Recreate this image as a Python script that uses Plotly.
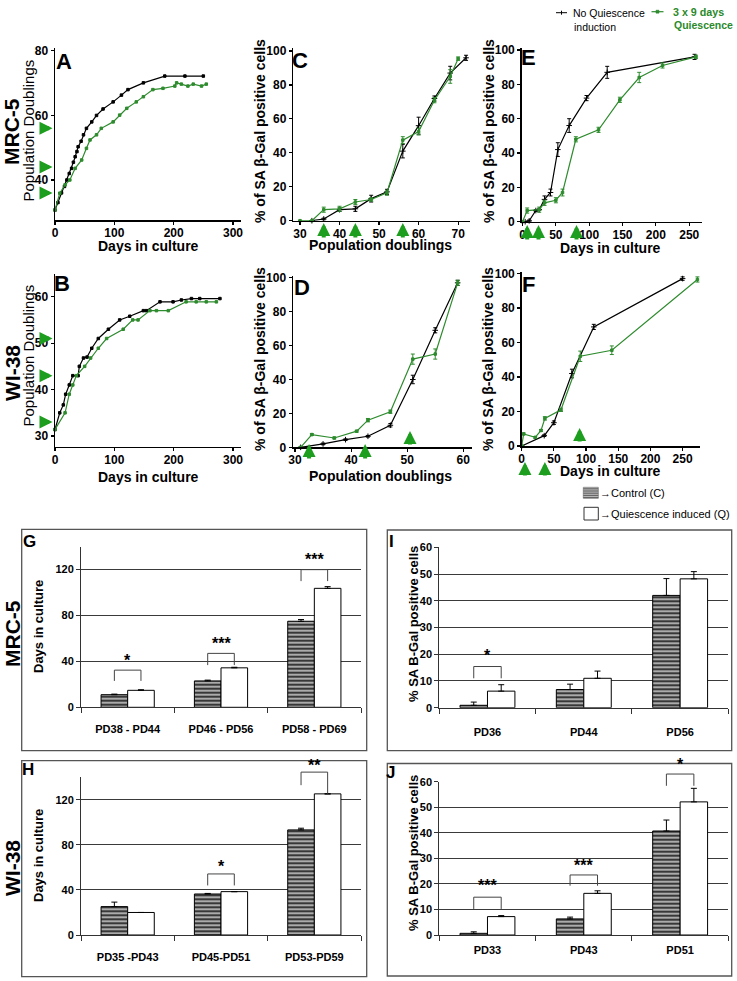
import plotly.graph_objects as go

W, H = 737, 981
FONT = "Liberation Sans, Arial, sans-serif"
GREEN = "#2e8b2e"
GREEN_ARROW = "#1e9e1e"
GREEN_TEXT = "#2a8a2a"

# ---------------- data ----------------
# Panel A : MRC-5 population doublings vs days in culture
a_ctrl_days = [0, 5, 11, 16, 20, 24, 28, 31, 34, 37, 39, 44, 48, 53, 62, 70, 81, 98, 112, 123, 149, 185, 219, 250]
a_ctrl_pd = [30.7, 33, 36, 38, 40, 42, 43.6, 45.5, 47.2, 48.8, 50.3, 52, 54, 56, 58, 60, 62, 64.2, 66.3, 68, 70.1, 72.2, 72.2, 72.2]
a_q_days = [0, 8, 17, 25, 34, 45, 53, 59, 70, 78, 98, 109, 121, 137, 149, 165, 182, 202, 205, 213, 224, 233, 247, 255]
a_q_pd = [30.7, 35.9, 38.5, 40, 43.6, 46.2, 49.8, 52.4, 54, 56, 58, 60.1, 62.2, 64.2, 65.8, 68, 68.4, 69.1, 70.1, 69.7, 69.1, 69.7, 69.1, 69.7]
a_arrow_pd = [56, 44, 36]

# Panel B : WI-38 population doublings vs days in culture
b_ctrl_days = [0, 8, 14, 18, 24, 30, 39, 41, 48, 54, 62, 73, 90, 109, 126, 149, 154, 177, 199, 213, 230, 244, 278]
b_ctrl_pd = [31.4, 35, 36.7, 39, 41, 43, 43, 45, 46.8, 47, 48.9, 51, 53, 55, 55.8, 57, 57, 58.9, 58.9, 59.3, 59.6, 59.6, 59.6]
b_q_days = [0, 17, 24, 30, 36, 50, 60, 73, 87, 115, 131, 140, 160, 171, 191, 221, 238, 255, 272]
b_q_pd = [31.4, 35, 39, 41, 43, 45, 46.8, 48.9, 51, 53, 55, 55, 57, 57, 57, 58.9, 58.9, 58.9, 58.9]
b_arrow_pd = [51, 43, 33]

# Panel C : MRC-5 SA-beta-Gal vs population doublings
c_ctrl_pd = [33, 36, 40, 44, 48, 52, 56, 60, 64, 68, 72]
c_ctrl_sa = [0, 1, 6.5, 7, 13, 17, 41, 56, 72, 87, 96]
c_ctrl_err = [0, 0.5, 1, 1.5, 2, 1.5, 4, 5, 1.5, 4, 1.5]
c_q_pd = [30, 33, 36, 40, 44, 48, 52, 56, 60, 64, 68, 70]
c_q_sa = [0, 0, 6.5, 7, 11, 12.5, 16.5, 47.5, 52.5, 71, 85, 95.5]
c_q_err = [0, 0, 1.5, 1.5, 1.5, 1, 1.5, 2, 2, 1.5, 4, 1]
c_arrow_pd = [36, 44, 56]

# Panel D : WI-38 SA-beta-Gal vs population doublings
d_ctrl_pd = [31, 35, 39, 43, 47, 51, 55, 59]
d_ctrl_sa = [0, 2, 4.5, 6.5, 13, 40, 69, 97]
d_ctrl_err = [0, 0.5, 0.5, 0.5, 1, 2.5, 1.5, 1.5]
d_q_pd = [31, 33, 37, 41, 43, 47, 51, 55, 59]
d_q_sa = [0, 7.5, 5.5, 9.5, 16, 21, 52, 55, 97]
d_q_err = [0, 0.5, 0.5, 0.5, 1, 1, 3, 3, 1.5]
d_arrow_pd = [32.5, 42.5, 50.5]

# Panel E : MRC-5 SA-beta-Gal vs days in culture
e_ctrl_days = [4, 10, 20, 25, 33, 42, 53, 70, 96, 127, 258]
e_ctrl_sa = [0, 0.5, 6.5, 7, 13, 17, 42, 56, 72, 87, 96]
e_ctrl_err = [0, 0.5, 0.5, 0.5, 2, 2, 4, 4, 1.5, 3.5, 1.5]
e_q_days = [0, 7, 25, 33, 50, 60, 80, 114, 146, 175, 210, 260]
e_q_sa = [0, 6.5, 7, 11, 12.5, 17, 48, 53.5, 71, 84, 91, 96]
e_q_err = [0, 1.5, 1.5, 1.5, 1.5, 2, 1.5, 1.5, 1.5, 3, 1.5, 1]
e_arrow_days = [7, 24, 81]

# Panel F : WI-38 SA-beta-Gal vs days in culture
f_ctrl_days = [0, 35, 50, 78, 112, 250]
f_ctrl_sa = [0, 6, 13.5, 42, 69, 97]
f_ctrl_err = [0, 0.5, 1, 2.5, 1.5, 1]
f_q_days = [0, 3, 21, 30, 36, 61, 91, 140, 273]
f_q_sa = [0, 7, 5, 9, 16, 21, 52, 55.5, 96.5]
f_q_err = [0, 0.5, 0.5, 0.5, 1, 1, 3, 2.5, 1.5]
f_arrow_days = [5, 36, 90]

# Bar panels
g_labels = ["PD38 - PD44", "PD46 - PD56", "PD58 - PD69"]
g_ctrl = [11, 23, 75]
g_ctrl_err = [0.5, 0.7, 1.5]
g_q = [14.8, 34.4, 103.7]
g_q_err = [0.5, 0.5, 1.5]

h_labels = ["PD35 -PD43", "PD45-PD51", "PD53-PD59"]
h_ctrl = [25.2, 36.4, 93.3]
h_ctrl_err = [4, 0.5, 1.5]
h_q = [20, 38.5, 125.3]
h_q_err = [0, 0, 0]

i_labels = ["PD36", "PD44", "PD56"]
i_ctrl = [0.9, 6.8, 42]
i_ctrl_err = [1.2, 2, 6.3]
i_q = [6.2, 11, 48.2]
i_q_err = [2.4, 2.7, 2.7]

j_labels = ["PD33", "PD43", "PD51"]
j_ctrl = [0.65, 6.3, 40.7]
j_ctrl_err = [0.6, 0.7, 4.3]
j_q = [7.2, 16.3, 52.1]
j_q_err = [0.4, 1, 5.3]

# significance brackets: (category index, bracket top, left leg bottom, right leg bottom, star y, label)
g_sig = [(0, 32.4, 23, 23, 41, "*"), (1, 47, 36.8, 36.8, 55.6, "***"), (2, 120, 110, 110, 128.7, "***")]
h_sig = [(1, 54.2, 44, 44, 61, "*"), (2, 144.6, 133, 125.5, 150.5, "**")]
i_sig = [(0, 15.4, 11, 11, 19.4, "*")]
j_sig = [(0, 14.8, 10.2, 10.2, 19.2, "***"), (1, 23.5, 19.3, 19.3, 27.2, "***"), (2, 63, 58.4, 58.4, 66.7, "*")]

# ---------------- geometry (pixel boxes of each subplot) ----------------
P = {
    "A": dict(n=1, x=(55, 240.7), y=(220, 48.3), xr=[0, 313], yr=[27.6, 80.8]),
    "B": dict(n=2, x=(55, 240.7), y=(446.7, 273.5), xr=[0, 313], yr=[27.7, 65]),
    "C": dict(n=3, x=(293.3, 470), y=(220.7, 48.3), xr=[28.3, 73.0], yr=[0, 101.6]),
    "D": dict(n=4, x=(293, 471.7), y=(447.3, 275.7), xr=[29.64, 61.5], yr=[0, 101.2]),
    "E": dict(n=5, x=(521.7, 701.7), y=(221.7, 48.3), xr=[-1.2, 268.7], yr=[0, 101]),
    "F": dict(n=6, x=(521.7, 700), y=(446, 271.7), xr=[0, 277], yr=[0, 101]),
    "G": dict(n=7, x=(81, 361), y=(707.3, 546.7), xr=[-0.5, 2.5], yr=[0, 140]),
    "H": dict(n=8, x=(81, 361), y=(935, 777.3), xr=[-0.5, 2.5], yr=[0, 140]),
    "I": dict(n=9, x=(439.3, 728.3), y=(707.7, 547.3), xr=[-0.5, 2.5], yr=[0, 60]),
    "J": dict(n=10, x=(439.3, 728.3), y=(935, 781.7), xr=[-0.5, 2.5], yr=[0, 60]),
}


def fx(px):
    return px / W


def fy(py):
    return 1 - py / H


def px_x(p, v):
    x0, x1 = p["x"]
    r0, r1 = p["xr"]
    return x0 + (v - r0) / (r1 - r0) * (x1 - x0)


def px_y(p, v):
    y0, y1 = p["y"]
    r0, r1 = p["yr"]
    return y0 + (v - r0) / (r1 - r0) * (y1 - y0)


def ax_id(p, letter):
    return letter if p["n"] == 1 else f"{letter}{p['n']}"


fig = go.Figure()
layout = dict(
    template="none",
    width=W, height=H, autosize=False,
    margin=dict(l=0, r=0, t=0, b=0, pad=0),
    paper_bgcolor="white", plot_bgcolor="rgba(0,0,0,0)",
    showlegend=False, barmode="group", bargap=0.43, bargroupgap=0,
    font=dict(family=FONT, color="black"),
)

tick_line_font = dict(family=FONT, size=12, color="black", weight="bold")

line_ticks = {
    "A": ([0, 100, 200, 300], [40, 60, 80]),
    "B": ([0, 100, 200, 300], [30, 40, 50, 60]),
    "C": ([30, 40, 50, 60, 70], [0, 20, 40, 60, 80, 100]),
    "D": ([30, 40, 50, 60], [0, 20, 40, 60, 80, 100]),
    "E": ([0, 50, 100, 150, 200, 250], [0, 20, 40, 60, 80, 100]),
    "F": ([0, 50, 100, 150, 200, 250], [0, 20, 40, 60, 80, 100]),
}

for key, p in P.items():
    xn = "xaxis" if p["n"] == 1 else f"xaxis{p['n']}"
    yn = "yaxis" if p["n"] == 1 else f"yaxis{p['n']}"
    xd = [fx(p["x"][0]), fx(p["x"][1])]
    yd = [fy(p["y"][0]), fy(p["y"][1])]
    if key in line_ticks:
        xt, yt = line_ticks[key]
        common = dict(showline=True, linecolor="black", linewidth=1.5, ticks="outside",
                      ticklen=3, tickwidth=1.2, tickcolor="black", showgrid=False,
                      zeroline=False, tickfont=tick_line_font, fixedrange=True,
                      automargin=False)
        layout[xn] = dict(domain=xd, range=p["xr"], tickvals=xt, anchor=ax_id(p, "y"),
                          ticklabelstandoff=-2, **common)
        layout[yn] = dict(domain=yd, range=p["yr"], tickvals=yt, anchor=ax_id(p, "x"), **common)
    else:
        bar_font = dict(family=FONT, size=11, color="black", weight="bold")
        standoff = {"G": 11, "H": 12, "I": 14, "J": 5}[key]
        layout[xn] = dict(domain=xd, range=p["xr"], type="category", anchor=ax_id(p, "y"),
                          showline=True, linecolor="#333", linewidth=1, ticks="outside",
                          tickson="boundaries", ticklen=5, tickcolor="#333", showgrid=False,
                          zeroline=False, tickfont=bar_font, ticklabelstandoff=standoff,
                          fixedrange=True, automargin=False)
        ytv = [0, 40, 80, 120] if key in ("G", "H") else [0, 10, 20, 30, 40, 50, 60]
        layout[yn] = dict(domain=yd, range=p["yr"], tickvals=ytv, anchor=ax_id(p, "x"),
                          showline=True, linecolor="#333", linewidth=1, ticks="outside",
                          ticklen=4, tickcolor="#333", showgrid=True, gridcolor="#3a3a3a",
                          gridwidth=1, zeroline=False,
                          tickfont=dict(family=FONT, size=11, color="black", weight="bold"),
                          fixedrange=True, automargin=False)

fig.update_layout(**layout)


def add_series(p, x, y, err, color, symbol, size):
    fig.add_trace(go.Scatter(
        x=x, y=y, mode="lines+markers",
        line=dict(color=color, width=1.2),
        marker=dict(symbol=symbol, size=size, color=color, line=dict(color=color, width=1)),
        error_y=dict(type="data", array=err, visible=err is not None, color=color,
                     thickness=1, width=2),
        xaxis=ax_id(p, "x"), yaxis=ax_id(p, "y"), cliponaxis=False, hoverinfo="skip"))


add_series(P["A"], a_ctrl_days, a_ctrl_pd, None, "black", "square", 2.5)
add_series(P["A"], a_q_days, a_q_pd, None, GREEN, "square", 2.5)
add_series(P["B"], b_ctrl_days, b_ctrl_pd, None, "black", "square", 2.5)
add_series(P["B"], b_q_days, b_q_pd, None, GREEN, "square", 2.5)
add_series(P["C"], c_ctrl_pd, c_ctrl_sa, c_ctrl_err, "black", "cross-thin", 4)
add_series(P["C"], c_q_pd, c_q_sa, c_q_err, GREEN, "square", 2.5)
add_series(P["D"], d_ctrl_pd, d_ctrl_sa, d_ctrl_err, "black", "cross-thin", 4)
add_series(P["D"], d_q_pd, d_q_sa, d_q_err, GREEN, "square", 2.5)
add_series(P["E"], e_ctrl_days, e_ctrl_sa, e_ctrl_err, "black", "cross-thin", 4)
add_series(P["E"], e_q_days, e_q_sa, e_q_err, GREEN, "square", 2.5)
add_series(P["F"], f_ctrl_days, f_ctrl_sa, f_ctrl_err, "black", "cross-thin", 4)
add_series(P["F"], f_q_days, f_q_sa, f_q_err, GREEN, "square", 2.5)

stripe = dict(shape="-", bgcolor="#ababab", fgcolor="#1a1a1a", size=4, solidity=0.4)


def add_bars(p, labels, ctrl, ctrl_err, q, q_err):
    for vals, err, is_ctrl in ((ctrl, ctrl_err, True), (q, q_err, False)):
        marker = dict(color="#ababab" if is_ctrl else "white", line=dict(color="black", width=1))
        if is_ctrl:
            marker["pattern"] = stripe
        fig.add_trace(go.Bar(
            x=labels, y=vals, marker=marker,
            error_y=dict(type="data", array=err, arrayminus=[0] * len(err), symmetric=False,
                         color="black", thickness=1, width=3),
            xaxis=ax_id(p, "x"), yaxis=ax_id(p, "y"), hoverinfo="skip"))


add_bars(P["G"], g_labels, g_ctrl, g_ctrl_err, g_q, g_q_err)
add_bars(P["H"], h_labels, h_ctrl, h_ctrl_err, h_q, h_q_err)
add_bars(P["I"], i_labels, i_ctrl, i_ctrl_err, i_q, i_q_err)
add_bars(P["J"], j_labels, j_ctrl, j_ctrl_err, j_q, j_q_err)

shapes = []
annotations = []


def text(t, x, y, size, bold=True, angle=0, color="black", xanchor="center"):
    annotations.append(dict(
        text=t, x=fx(x), y=fy(y), xref="paper", yref="paper", showarrow=False,
        textangle=angle, xanchor=xanchor, yanchor="middle", borderpad=0,
        font=dict(family=FONT, size=size, color=color, weight="bold" if bold else "normal")))


def arrow(tip_x, tip_y, dx, dy):
    annotations.append(dict(
        text="", x=fx(tip_x), y=fy(tip_y), xref="paper", yref="paper",
        showarrow=True, ax=dx, ay=dy, axref="pixel", ayref="pixel",
        arrowhead=2, arrowsize=0.65, arrowwidth=4, arrowcolor=GREEN_ARROW, standoff=0))


# green arrows (quiescence induction points)
for v in a_arrow_pd:
    arrow(52.5, px_y(P["A"], v), -14, 0)
for v in b_arrow_pd:
    arrow(52.5, px_y(P["B"], v), -14, 0)
for v in c_arrow_pd:
    arrow(px_x(P["C"], v), 223, 0, 16)
for v in e_arrow_days:
    arrow(px_x(P["E"], v), 225, 0, 16)
for v in d_arrow_pd[:2]:
    arrow(px_x(P["D"], v), 444, 0, 16)
arrow(px_x(P["D"], d_arrow_pd[2]), 431, 0, 15)
for v in f_arrow_days[:2]:
    arrow(px_x(P["F"], v), 462, 0, 15)
arrow(px_x(P["F"], f_arrow_days[2]), 428, 0, 15)

# panel frames for bar charts
for x0, y0, x1, y1 in [(21.7, 529.3, 366.7, 750.7), (21.7, 760.7, 366.7, 976.7),
                       (387.3, 530, 731.7, 750.7), (387.3, 763.5, 731.7, 976)]:
    shapes.append(dict(type="rect", xref="paper", yref="paper", x0=fx(x0), x1=fx(x1),
                       y0=fy(y1), y1=fy(y0), line=dict(color="#555", width=1.3),
                       fillcolor="rgba(0,0,0,0)", layer="below"))

# significance brackets
for key, sig in (("G", g_sig), ("H", h_sig), ("I", i_sig), ("J", j_sig)):
    p = P[key]
    for ci, top, lb, rb, sy, lab in sig:
        xl = fx(px_x(p, ci - 0.1425))
        xr_ = fx(px_x(p, ci + 0.1425))
        yt = fy(px_y(p, top))
        yl = fy(px_y(p, lb))
        yr_ = fy(px_y(p, rb))
        shapes.append(dict(type="path", xref="paper", yref="paper",
                           path=f"M{xl},{yl} L{xl},{yt} L{xr_},{yt} L{xr_},{yr_}",
                           line=dict(color="#444", width=1)))
        text(lab, px_x(p, ci), px_y(p, sy), 16, True)

# titles & labels
text("MRC-5", 12, 132, 21, True, -90)
text("Population Doublings", 27.5, 131, 15, False, -90)
text("A", 63.5, 61.5, 22, True)
text("Days in culture", 148, 246, 14)
text("% of SA β-Gal positive cells", 260, 131, 14, True, -90)
text("C", 299.5, 61, 22, True)
text("Population doublings", 380, 245, 14)
text("% of SA β-Gal positive cells", 489, 131, 14, True, -90)
text("E", 528, 58, 22, True)
text("Days in culture", 610, 248, 14)

text("WI-38", 12, 373, 21, True, -90)
text("Population Doublings", 27.5, 356, 15, False, -90)
text("B", 62, 283, 22, True)
text("Days in culture", 148, 477, 14)
text("% of SA β-Gal positive cells", 260, 359, 14, True, -90)
text("D", 301.5, 287, 22, True)
text("Population doublings", 380, 476, 14)
text("% of SA β-Gal positive cells", 488, 359, 14, True, -90)
text("F", 528, 284, 22, True)
text("Days in culture", 610, 470.5, 14)

text("G", 29, 541, 17, True)
text("H", 28.5, 769, 17, True)
text("I", 391, 541, 17, True)
text("J", 390, 772, 17, True)
text("MRC-5", 12, 634, 21, True, -90)
text("WI-38", 12, 868, 21, True, -90)
text("Days in culture", 38, 627, 13, True, -90)
text("Days in culture", 38, 856, 13, True, -90)
text("% SA Β-Gal positive cells", 413, 624, 13, True, -90)
text("% SA Β-Gal positive cells", 413, 853, 13, True, -90)

# top legend
shapes.append(dict(type="line", xref="paper", yref="paper", x0=fx(556), x1=fx(567),
                   y0=fy(12.7), y1=fy(12.7), line=dict(color="black", width=1)))
shapes.append(dict(type="line", xref="paper", yref="paper", x0=fx(561.5), x1=fx(561.5),
                   y0=fy(10.7), y1=fy(14.7), line=dict(color="black", width=1)))
text("No Quiescence", 571.5, 12.7, 10.5, False, xanchor="left")
text("induction", 573, 26.7, 10.5, False, xanchor="left")
shapes.append(dict(type="line", xref="paper", yref="paper", x0=fx(651.5), x1=fx(663.5),
                   y0=fy(11.7), y1=fy(11.7), line=dict(color=GREEN, width=1.2)))
shapes.append(dict(type="rect", xref="paper", yref="paper", x0=fx(656), x1=fx(659),
                   y0=fy(13.2), y1=fy(10.2), line=dict(color=GREEN, width=0.5), fillcolor=GREEN))
text("3 x 9 days", 671.5, 11.7, 10.7, True, color=GREEN_TEXT, xanchor="left")
text("Quiescence", 673, 25, 10.5, True, color=GREEN_TEXT, xanchor="left")

# bar legend
shapes.append(dict(type="rect", xref="paper", yref="paper", x0=fx(583.3), x1=fx(598.3),
                   y0=fy(498.3), y1=fy(487.3), line=dict(color="#888", width=0.8),
                   fillcolor="#b5b5b5"))
for k in range(5):
    yy = 488.8 + k * 2.2
    shapes.append(dict(type="line", xref="paper", yref="paper", x0=fx(583.3), x1=fx(598.3),
                       y0=fy(yy), y1=fy(yy), line=dict(color="#555", width=0.9)))
text("→Control (C)", 599.3, 493, 11, False, xanchor="left")
shapes.append(dict(type="rect", xref="paper", yref="paper", x0=fx(584), x1=fx(598.3),
                   y0=fy(520), y1=fy(507.3), line=dict(color="#333", width=1),
                   fillcolor="white"))
text("→Quiescence induced (Q)", 599.3, 513.5, 11, False, xanchor="left")

fig.update_layout(shapes=shapes, annotations=annotations)
fig.write_html("out.html", config={"displayModeBar": False, "staticPlot": True},
               post_script="document.body.style.margin='0';document.body.style.padding='0';")
